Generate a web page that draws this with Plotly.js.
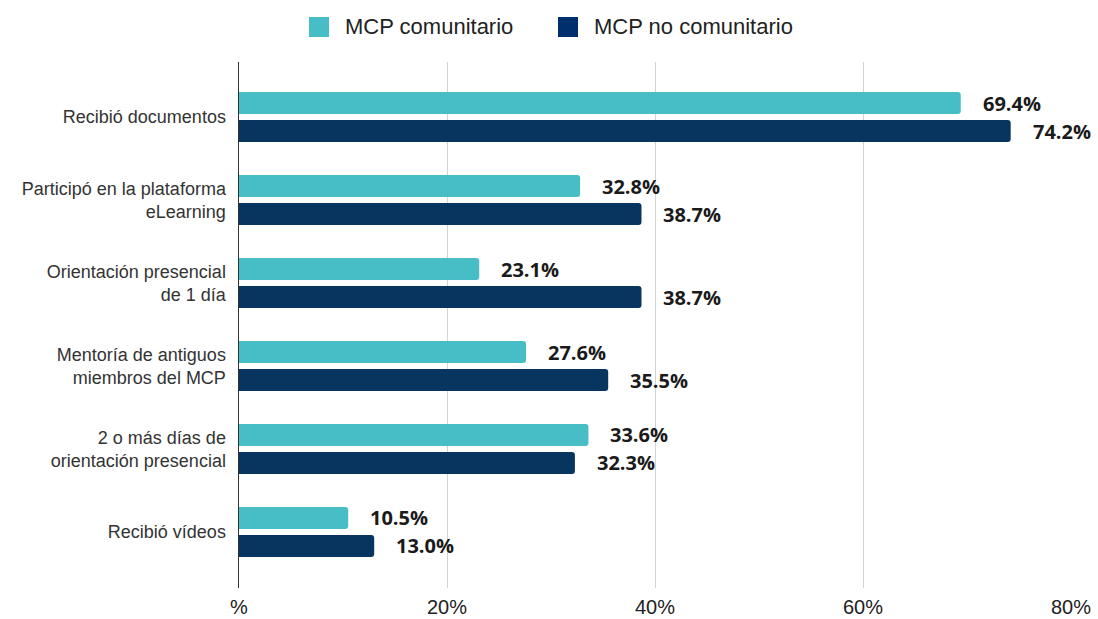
<!DOCTYPE html>
<html>
<head>
<meta charset="utf-8">
<script src="https://cdn.plot.ly/plotly-3.0.1.min.js"></script>
<style>html,body{margin:0;padding:0;background:#fff;}#chart{width:1098px;height:619px;}</style>
</head>
<body>
<div id="chart"></div>
<script>
const categories = [
  "Recibió documentos",
  "Participó en la plataforma<br>eLearning",
  "Orientación presencial<br>de 1 día",
  "Mentoría de antiguos<br>miembros del MCP",
  "2 o más días de<br>orientación presencial",
  "Recibió vídeos"
];
const seriesNames = ["MCP comunitario", "MCP no comunitario"];
const comunitario = [69.4, 32.8, 23.1, 27.6, 33.6, 10.5];
const noComunitario = [74.2, 38.7, 38.7, 35.5, 32.3, 13.0];
const tickVals = [0, 20, 40, 60, 80];
const tickText = ["%", "20%", "40%", "60%", "80%"];

const teal = "#47bec6";
const navy = "#07355f";
const navyLegend = "#002f6e";

const traces = [
  {type: "bar", orientation: "h", name: seriesNames[0], y: categories, x: comunitario,
   marker: {color: teal}, hoverinfo: "x", showlegend: false},
  {type: "bar", orientation: "h", name: seriesNames[1], y: categories, x: noComunitario,
   marker: {color: navy}, hoverinfo: "x", showlegend: false}
];

const labelFont = {family: "Open Sans, DejaVu Sans, sans-serif", size: 20, color: "#1a1a1a", weight: 700};
const annotations = [];
[comunitario, noComunitario].forEach((vals, s) => {
  vals.forEach((v, i) => {
    annotations.push({
      x: v, y: categories[i], xref: "x", yref: "y",
      text: v.toFixed(1) + "%", showarrow: false,
      xanchor: "left", yanchor: "middle",
      xshift: 20, yshift: s === 0 ? 14 : -14,
      font: labelFont
    });
  });
});

// custom legend
const legendItems = [
  {x0: 309, color: teal, text: seriesNames[0], tx: 343},
  {x0: 558, color: navyLegend, text: seriesNames[1], tx: 592}
];
const W = 1098, H = 619;
const shapes = [];
legendItems.forEach(it => {
  shapes.push({type: "rect", xref: "paper", yref: "paper", layer: "above",
    x0: (it.x0 - 239) / (W - 239 - 27), x1: (it.x0 + 20 - 239) / (W - 239 - 27),
    y0: (H - 31 - 37) / (H - 62 - 31), y1: (H - 31 - 17) / (H - 62 - 31),
    fillcolor: it.color, line: {width: 0}});
  annotations.push({xref: "paper", yref: "paper", showarrow: false,
    x: (it.tx - 239) / (W - 239 - 27), y: (H - 31 - 27) / (H - 62 - 31),
    xanchor: "left", yanchor: "middle", text: it.text,
    font: {family: "Liberation Sans, Arial, sans-serif", size: 22, color: "#222"}});
});

const layout = {
  width: W, height: H,
  margin: {l: 239, r: 27, t: 62, b: 31, pad: 0},
  paper_bgcolor: "#fff", plot_bgcolor: "#fff",
  barmode: "group", bargap: 0.325, bargroupgap: 0.214, barcornerradius: 3,
  showlegend: false,
  xaxis: {range: [0, 80], tickvals: tickVals, ticktext: tickText, showgrid: true,
    gridcolor: "#d3d3d3", gridwidth: 1, zeroline: false, showline: false, ticks: "",
    ticklabelstandoff: 5,
    tickfont: {family: "Liberation Sans, Arial, sans-serif", size: 20, color: "#222"},
    fixedrange: true},
  yaxis: {type: "category", categoryorder: "array", categoryarray: categories,
    range: [5.675, -0.663], showgrid: false, zeroline: false,
    showline: true, linecolor: "#333", linewidth: 1.5, ticks: "",
    ticklabelstandoff: 8,
    tickfont: {family: "Liberation Sans, Arial, sans-serif", size: 18, color: "#333"},
    fixedrange: true},
  annotations: annotations, shapes: shapes,
  font: {family: "Liberation Sans, Arial, sans-serif"}
};

Plotly.newPlot("chart", traces, layout, {displayModeBar: false, staticPlot: true});
</script>
</body>
</html>
